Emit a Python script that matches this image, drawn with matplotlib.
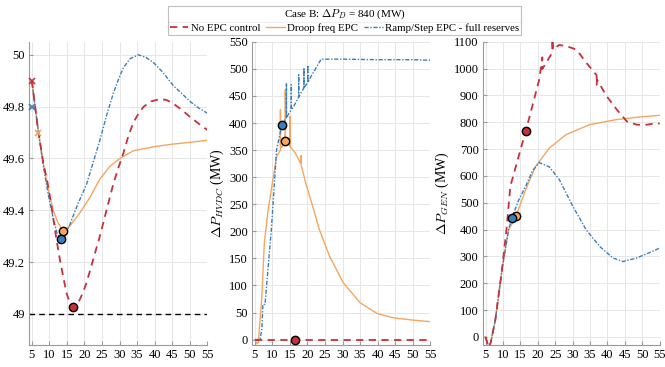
import numpy as np
import matplotlib.pyplot as plt
from matplotlib.lines import Line2D

plt.rcParams['font.family'] = ['Liberation Serif', 'DejaVu Serif']
plt.rcParams['mathtext.fontset'] = 'cm'

red = '#c8303c'
orange = '#f5a660'
blue = '#3a7ebf'

# ---- frequency (Hz)
t_f_red = [5, 6.8, 8.3, 9.3, 10.2, 11.1, 12, 13, 14, 14.9, 15.8, 16.8, 17.7, 18.5, 19.5, 20.6, 22.5,
           24.4, 26.3, 28.2, 29.7, 31.1, 32.5, 34, 35.5, 36.9, 39, 41.7, 43.5, 45.5, 48, 50.1, 52.5, 55]
f_red = [49.90, 49.71, 49.58, 49.52, 49.45, 49.37, 49.29, 49.21, 49.14, 49.08, 49.045, 49.025, 49.03,
         49.05, 49.08, 49.12, 49.21, 49.30, 49.40, 49.50, 49.565, 49.62, 49.685, 49.74, 49.775, 49.80,
         49.82, 49.83, 49.825, 49.81, 49.785, 49.76, 49.735, 49.71]
t_f_or = [5, 5.4, 6.8, 8.3, 9.7, 11.1, 12.5, 14.0, 15.9, 18.7, 21.6, 24.4, 27.3, 30.1, 34, 40.2, 45, 50, 55]
f_or = [49.90, 49.86, 49.71, 49.58, 49.48, 49.40, 49.35, 49.32, 49.34, 49.39, 49.45, 49.52, 49.57,
        49.60, 49.63, 49.646, 49.655, 49.662, 49.67]
t_f_bl = [5, 6.8, 8.3, 9.7, 11.1, 12.2, 13.2, 14.5, 16, 18, 20.6, 22.5, 24.4, 26.3, 28.2, 29.7, 31.1,
          33, 35.4, 37.5, 39.7, 42.5, 45.4, 47.8, 50.1, 52.5, 55]
f_bl = [49.90, 49.71, 49.57, 49.46, 49.37, 49.31, 49.29, 49.30, 49.35, 49.42, 49.50, 49.585, 49.67,
        49.765, 49.85, 49.905, 49.95, 49.985, 50.0, 49.99, 49.97, 49.93, 49.88, 49.85, 49.82, 49.795, 49.775]
f_nadir = {'red': (16.8, 49.025), 'orange': (14.0, 49.32), 'blue': (13.2, 49.29)}
f_cross = {'red': (5, 49.9), 'blue': (5, 49.8), 'orange': (6.7, 49.7)}
f_limit = 49.0

# ---- HVDC power (MW)
t_h_red = [5, 55]
p_h_red = [0, 0]
t_h_or = [5, 5.6, 6.0, 6.2, 7.0, 7.7, 8.7, 9.7, 11.2, 12.3, 12.3, 12.3, 12.6, 13.2, 13.7, 13.7, 13.7,
          14.3, 15.0, 15.0, 15.0, 16.5, 18.0, 18.2, 18.2, 18.4, 19.5, 21.5, 23.4, 26.3, 30.2, 35, 39.9,
          44.7, 50, 55]
p_h_or = [0, -8, -5, 12, 80, 178, 235, 277, 338, 350, 425, 357, 355, 360, 366, 461, 366,
          364, 357, 412, 357, 345, 326, 340, 322, 318, 289, 246, 203, 154, 105, 68, 48,
          40, 36, 33]
t_h_bl = [5, 6.5, 7.0, 7.3, 7.9, 9.7, 11.2, 12.8, 14.0, 14.0, 14.0, 15.4, 15.4, 15.4, 16.1,
          17.5, 17.5, 17.5, 18.1, 19.0, 19.0, 19.0, 20.1, 20.1, 20.1, 21.0, 23.9, 30, 40, 50, 55]
p_h_bl = [0, 0, 20, 65, 65, 203, 351, 399, 410, 474, 410, 425, 471, 425, 431,
          448, 489, 448, 455, 465, 502, 465, 475, 507, 475, 486, 518, 518, 517, 517, 516]
h_mark = {'red': (16.5, 0), 'orange': (13.7, 366), 'blue': (12.6, 397)}

# ---- generation power (MW)
t_g_or = [4.4, 5.0, 5.9, 6.5, 7.8, 9.7, 11.6, 13.8, 16.5, 19.4, 23.3, 28.1, 34.8, 42.5, 49.3, 55]
p_g_or = [0, 0, -40, -20, 63, 250, 399, 451, 549, 636, 704, 754, 791, 810, 820, 826]
t_g_bl = [5, 5.9, 6.5, 7.8, 9.7, 11.6, 12.6, 14.5, 16.5, 18.5, 20.4, 23.3, 26.2, 30.1, 33.9, 37.8,
          41.6, 44.5, 48.3, 51.3, 55]
p_g_bl = [0, -40, -20, 63, 250, 400, 445, 510, 561, 620, 650, 634, 586, 486, 399, 337,
          294, 281, 294, 310, 331]
t_g_red = [5, 5.9, 6.5, 7.8, 9.7, 11.0, 12.1, 14.5, 16.5, 18.4, 20.4, 21.3, 21.3, 21.8, 24.2, 24.2,
           24.3, 26.1, 28, 31.1, 34, 36.9, 36.9, 37.0, 39.8, 42.7, 45.6, 48.5, 51.3, 54.2, 55]
p_g_red = [0, -40, -20, 63, 250, 400, 561, 673, 766, 859, 959, 1042, 999, 1009, 1061, 1110,
           1071, 1088, 1085, 1071, 1021, 975, 940, 959, 897, 847, 803, 791, 791, 797, 795]
g_mark = {'red': (16.5, 766), 'orange': (13.8, 451), 'blue': (12.6, 445)}

cols = {'red': red, 'orange': orange, 'blue': blue}

fig = plt.figure(figsize=(6.65, 3.67), dpi=100)
ax1 = fig.add_axes([0.0436, 0.06, 0.268, 0.826])
ax2 = fig.add_axes([0.379, 0.06, 0.268, 0.826])
ax3 = fig.add_axes([0.726, 0.06, 0.266, 0.826])

red_ls = (0, (4, 3))
blue_ls = (0, (3, 1.2, 1, 1.2))

ax1.axhline(f_limit, color='k', ls=(0, (4, 3)), lw=1)
ax1.plot(t_f_or, f_or, color=orange, lw=1)
ax1.plot(t_f_bl, f_bl, color=blue, ls=blue_ls, lw=1)
ax1.plot(t_f_red, f_red, color=red, ls=red_ls, lw=1.3)
for k, (x, y) in f_cross.items():
    ax1.plot(x, y, 'x', color=cols[k], ms=5, mew=1.2, clip_on=False, zorder=5)
for k, (x, y) in f_nadir.items():
    ax1.plot(x, y, 'o', mfc=cols[k], mec='k', ms=6, mew=1, zorder=6)

ax2.plot(t_h_or, p_h_or, color=orange, lw=1)
ax2.plot(t_h_bl, p_h_bl, color=blue, ls=blue_ls, lw=1)
ax2.plot(t_h_red, p_h_red, color=red, ls=red_ls, lw=1.3)
for k, (x, y) in h_mark.items():
    ax2.plot(x, y, 'o', mfc=cols[k], mec='k', ms=6, mew=1, zorder=6)

ax3.plot(t_g_or, p_g_or, color=orange, lw=1)
ax3.plot(t_g_bl, p_g_bl, color=blue, ls=blue_ls, lw=1)
ax3.plot(t_g_red, p_g_red, color=red, ls=red_ls, lw=1.3)
for k, (x, y) in g_mark.items():
    ax3.plot(x, y, 'o', mfc=cols[k], mec='k', ms=6, mew=1, zorder=6)

ax1.set_ylim(48.88, 50.05)
ax1.set_yticks([49, 49.2, 49.4, 49.6, 49.8, 50])
ax1.set_yticklabels(['49', '49.2', '49.4', '49.6', '49.8', '50'])
ax1.set_ylabel('$f_{COI}$ (Hz)', fontsize=10, labelpad=2)
ax2.set_ylim(-10, 550)
ax2.set_yticks(np.arange(0, 551, 50))
ax2.set_ylabel(r'$\Delta P_{HVDC}$ (MW)', fontsize=10, labelpad=2)
ax3.set_ylim(-30, 1100)
ax3.set_yticks(np.arange(0, 1101, 100))
ax3.set_ylabel(r'$\Delta P_{GEN}$ (MW)', fontsize=10, labelpad=2)

for ax in (ax1, ax2, ax3):
    ax.set_xlim(4.2, 55)
    ax.set_xticks(np.arange(5, 56, 5))
    ax.set_xlabel('$t$ (s)', fontsize=10, labelpad=3)
    ax.grid(True, color='#e6e6e6', lw=0.7)
    ax.set_axisbelow(True)
    for s in ('top', 'right'):
        ax.spines[s].set_visible(False)
    for s in ('left', 'bottom'):
        ax.spines[s].set_color('#9a9a9a')
    ax.tick_params(direction='in', length=3, color='#9a9a9a', labelsize=9, pad=3)

handles = [Line2D([], [], color=red, ls=red_ls, lw=1.3),
           Line2D([], [], color=orange, lw=1),
           Line2D([], [], color=blue, ls=blue_ls, lw=1)]
labels = ['No EPC control', 'Droop freq EPC', 'Ramp/Step EPC - full reserves']
leg = fig.legend(handles, labels, loc='upper center', bbox_to_anchor=(0.518, 0.985), ncol=3,
                 title=r'Case B: $\Delta P_D$ = 840 (MW)', fontsize=7.8, title_fontsize=8,
                 frameon=True, fancybox=False, edgecolor='#b0b0b0', handlelength=1.7,
                 handletextpad=0.25, columnspacing=0.55, borderpad=0.15, labelspacing=0.1,
                 borderaxespad=0)
leg.get_frame().set_linewidth(0.8)
leg._legend_box.sep = 2

# separator between legend title and entries
fig.canvas.draw()
inv = fig.transFigure.inverted()
fb = inv.transform(leg.get_frame().get_window_extent())
tb = inv.transform(leg.get_title().get_window_extent())
ysep = tb[0, 1] - 0.004
fig.add_artist(Line2D([fb[0, 0], fb[1, 0]], [ysep, ysep], color='#b0b0b0', lw=0.8))

fig.savefig('out.png', dpi=100)
